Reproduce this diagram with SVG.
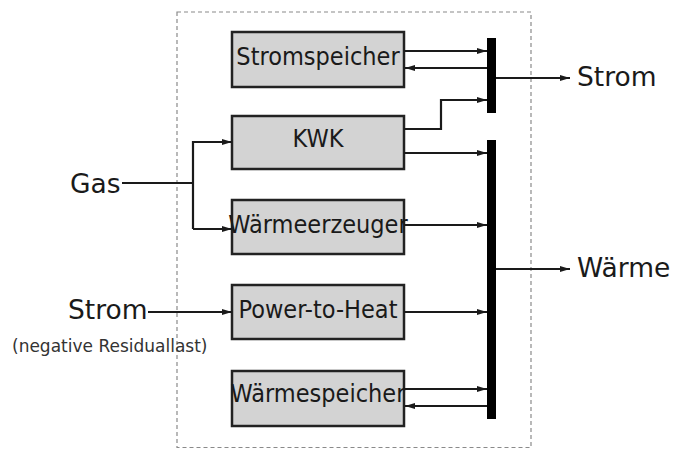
<svg xmlns="http://www.w3.org/2000/svg" width="676" height="449" viewBox="0 0 676 449">
<defs>
<style>
.box{fill:#d3d3d3;stroke:#222;stroke-width:2.5}
.bl{font-family:"DejaVu Sans Condensed","DejaVu Sans",sans-serif;font-stretch:condensed;font-size:25px;fill:#1a1a1a;text-anchor:middle}
.lbl{font-family:"DejaVu Sans",sans-serif;font-size:26.5px;fill:#1a1a1a}
.small{font-family:"DejaVu Sans",sans-serif;font-size:17px;fill:#333}
.ln{fill:none;stroke:#1a1a1a;stroke-width:2.2}
.bar{fill:#000}
</style>
<marker id="ah" viewBox="0 0 10 6" refX="10" refY="3" markerWidth="10" markerHeight="6" markerUnits="userSpaceOnUse" orient="auto">
<path d="M0,0 L10,3 L0,6 z" fill="#1a1a1a"/>
</marker>
</defs>
<rect x="0" y="0" width="676" height="449" fill="#fff"/>
<rect x="177" y="12" width="354" height="435.5" fill="none" stroke="#8a8a8a" stroke-width="1.2" stroke-dasharray="4 3"/>

<g id="stromspeicher"><rect class="box" x="232" y="32" width="172" height="55"/><text class="bl" x="318" y="65">Stromspeicher</text></g>
<g id="kwk"><rect class="box" x="232" y="116" width="172" height="53"/><text class="bl" x="318" y="147">KWK</text></g>
<g id="waermeerzeuger"><rect class="box" x="232" y="200" width="172" height="54"/><text class="bl" x="318" y="233">Wärmeerzeuger</text></g>
<g id="power-to-heat"><rect class="box" x="232" y="285" width="172" height="54"/><text class="bl" x="318" y="318">Power-to-Heat</text></g>
<g id="waermespeicher"><rect class="box" x="232" y="371" width="172" height="55"/><text class="bl" x="318" y="402">Wärmespeicher</text></g>

<g id="strombus"><rect class="bar" x="487" y="38" width="9" height="75"/></g>
<g id="waermebus"><rect class="bar" x="487" y="140" width="9" height="279"/></g>

<g id="gas"><text class="lbl" x="70" y="192.5">Gas</text></g>
<g id="strom-in"><text class="lbl" x="68" y="319">Strom</text><text class="small" x="12" y="352">(negative Residuallast)</text></g>
<g id="strom-out"><text class="lbl" x="577" y="86">Strom</text></g>
<g id="waerme-out"><text class="lbl" x="577" y="277">Wärme</text></g>

<g id="connectors">
<path class="ln" d="M404,51 H487" marker-end="url(#ah)"/>
<path class="ln" d="M487,68 H405" marker-end="url(#ah)"/>
<path class="ln" d="M404,129 H441 V100 H487" marker-end="url(#ah)"/>
<path class="ln" d="M404,153 H487" marker-end="url(#ah)"/>
<path class="ln" d="M404,225 H487" marker-end="url(#ah)"/>
<path class="ln" d="M404,312 H487" marker-end="url(#ah)"/>
<path class="ln" d="M404,389 H487" marker-end="url(#ah)"/>
<path class="ln" d="M487,406 H405" marker-end="url(#ah)"/>
<path class="ln" d="M122,183 H193"/>
<path class="ln" d="M193,229 V142 H232" marker-end="url(#ah)"/>
<path class="ln" d="M193,229 H232" marker-end="url(#ah)"/>
<path class="ln" d="M148,312 H232" marker-end="url(#ah)"/>
<path class="ln" d="M496,78 H570" marker-end="url(#ah)"/>
<path class="ln" d="M496,269 H570" marker-end="url(#ah)"/>
</g>
</svg>
